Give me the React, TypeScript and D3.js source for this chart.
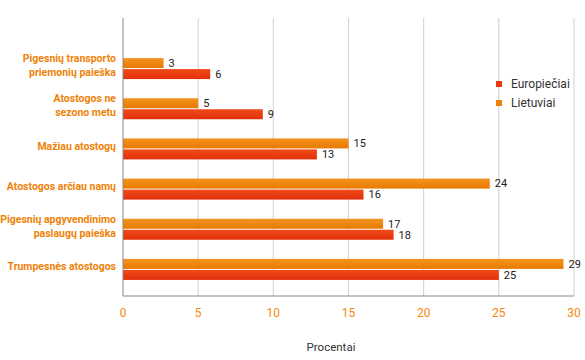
import React from "react";
import * as d3 from "d3";

const categories = [
  ["Pigesnių transporto", "priemonių paieška"],
  ["Atostogos ne", "sezono metu"],
  ["Mažiau atostogų"],
  ["Atostogos arčiau namų"],
  ["Pigesnių apgyvendinimo", "paslaugų paieška"],
  ["Trumpesnės atostogos"],
];
const lietuviai = [2.7, 5.0, 15.0, 24.4, 17.3, 29.3];
const europieciai = [5.8, 9.3, 12.9, 16.0, 18.0, 25.0];
const xTicks = [0, 5, 10, 15, 20, 25, 30];
const seriesNames = ["Europiečiai", "Lietuviai"];

const W = 585;
const H = 360;
const ORANGE = "#ee8208";
const RED = "#ea3a0e";
const TICK_ORANGE = "#f58a0a";

export default function App() {
  const x = d3.scaleLinear().domain([0, 30]).range([123, 574]);
  const y = d3
    .scaleBand<number>()
    .domain(d3.range(categories.length))
    .range([48.5, 289.5])
    .paddingInner(0.45)
    .paddingOuter(0.225);
  const bw = y.bandwidth();
  const barH = 10;
  const top = 18;
  const bottom = 296;
  const font = "Roboto, 'DejaVu Sans', sans-serif";

  return (
    <svg width={W} height={H} style={{ position: "absolute", left: 0, top: 0 }}>
      <defs>
        <linearGradient id="gOr" x1="0" y1="0" x2="0" y2="1">
          <stop offset="0" stopColor="#f39420" />
          <stop offset="1" stopColor="#e97a00" />
        </linearGradient>
        <linearGradient id="gRd" x1="0" y1="0" x2="0" y2="1">
          <stop offset="0" stopColor="#f04a18" />
          <stop offset="1" stopColor="#e2300c" />
        </linearGradient>
      </defs>
      <rect width={W} height={H} fill="#fff" />
      {xTicks.map((t) =>
        t === 0 ? null : (
          <line key={t} x1={x(t)} x2={x(t)} y1={top} y2={bottom} stroke="#d0d0d0" strokeWidth={1} />
        )
      )}
      {categories.map((c, i) => {
        const c0 = (y(i) as number) + bw / 2;
        const oy = c0 - barH - 0.5;
        const ry = c0 + 0.5;
        return (
          <g key={i}>
            <rect x={x(0)} y={oy} width={x(lietuviai[i]) - x(0)} height={barH} fill="url(#gOr)" />
            <rect x={x(0)} y={ry} width={x(europieciai[i]) - x(0)} height={barH} fill="url(#gRd)" />
            <text x={x(lietuviai[i]) + 5} y={oy + barH / 2} dy="0.35em" fontSize={11} fill="#222" fontFamily={font}>
              {Math.round(lietuviai[i])}
            </text>
            <text x={x(europieciai[i]) + 5} y={ry + barH / 2} dy="0.35em" fontSize={11} fill="#222" fontFamily={font}>
              {Math.round(europieciai[i])}
            </text>
            {c.map((line, j) => (
              <text
                key={j}
                x={116}
                y={c0 - 3 + (j - (c.length - 1) / 2) * 14}
                dy="0.35em"
                textAnchor="end"
                fontSize={10.5}
                fontWeight="bold"
                fill={ORANGE}
                fontFamily={font}
              >
                {line}
              </text>
            ))}
          </g>
        );
      })}
      <line x1={x(0)} x2={x(0)} y1={top} y2={bottom} stroke="#888" strokeWidth={1} />
      <line x1={x(0)} x2={x(30)} y1={bottom} y2={bottom} stroke="#888" strokeWidth={1} />
      {xTicks.map((t) => (
        <text key={t} x={x(t)} y={313} dy="0.35em" textAnchor="middle" fontSize={12} fill={TICK_ORANGE} fontFamily={font}>
          {t}
        </text>
      ))}
      <text x={331} y={347} dy="0.35em" textAnchor="middle" fontSize={11.5} fill="#333" fontFamily={font}>
        Procentai
      </text>
      {seriesNames.map((s, i) => (
        <g key={s}>
          <rect x={496} y={81 + i * 19} width={6} height={6} fill={i === 0 ? RED : ORANGE} />
          <text x={511} y={84 + i * 19} dy="0.35em" fontSize={12} fill="#333" fontFamily={font}>
            {s}
          </text>
        </g>
      ))}
    </svg>
  );
}
